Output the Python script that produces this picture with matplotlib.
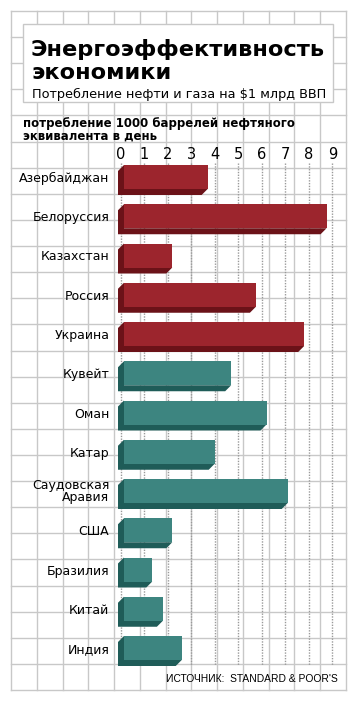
import matplotlib.pyplot as plt
import numpy as np
from matplotlib.patches import Rectangle, Polygon

countries = ["Азербайджан", "Белоруссия", "Казахстан", "Россия", "Украина",
             "Кувейт", "Оман", "Катар", "Саудовская\nАравия", "США",
             "Бразилия", "Китай", "Индия"]
values = [3.7, 8.75, 2.2, 5.75, 7.8, 4.7, 6.2, 4.0, 7.1, 2.2, 1.35, 1.8, 2.6]
group = ["cis"] * 5 + ["other"] * 8
ticks = list(range(10))

front = {"cis": "#9c252d", "other": "#3d8580"}
dark = {"cis": "#6b1218", "other": "#1f5c58"}
grid_c = "#c8c8c8"

W, H = 355, 705
fig = plt.figure(figsize=(W / 100, H / 100), dpi=100)

# background: squared paper
bg = fig.add_axes([0, 0, 1, 1])
bg.set_xlim(0, W)
bg.set_ylim(H, 0)
bg.axis("off")
for x in np.linspace(11, 346, 14):
    bg.plot([x, x], [11, 690], color=grid_c, lw=1.0, zorder=0)
for y in np.linspace(11, 690, 27):
    bg.plot([11, 346], [y, y], color=grid_c, lw=1.0, zorder=0)

# title box
bg.add_patch(Rectangle((23, 24), 310, 78, facecolor="white",
                       edgecolor=grid_c, lw=1.0, zorder=1))
bg.text(31, 56, "Энергоэффективность", fontsize=16.2, fontweight="bold",
        ha="left", va="baseline", zorder=2)
bg.text(31, 79, "экономики", fontsize=16.2, fontweight="bold",
        ha="left", va="baseline", zorder=2)
bg.text(32, 98, "Потребление нефти и газа на $1 млрд ВВП", fontsize=9.3,
        ha="left", va="baseline", zorder=2)
bg.text(23, 127, "потребление 1000 баррелей нефтяного", fontsize=8.5,
        fontweight="bold", ha="left", va="baseline", zorder=2)
bg.text(23, 140, "эквивалента в день", fontsize=8.5,
        fontweight="bold", ha="left", va="baseline", zorder=2)
bg.text(338, 682, "ИСТОЧНИК:  STANDARD & POOR'S", fontsize=7.4,
        family="Liberation Sans", ha="right", va="baseline", zorder=2)

# bar axes
left_px, top_px, bot_px = 112, 163, 690
x0_px, unit_px = 120.5, 23.55
row0_px, row_px = 177, 39.25
ax = fig.add_axes([left_px / W, 1 - bot_px / H, (346 - left_px) / W, (bot_px - top_px) / H])
ax.set_facecolor("none")
ax.set_xlim((left_px - x0_px) / unit_px, (346 - x0_px) / unit_px)
ax.set_ylim((bot_px - row0_px) / row_px, (top_px - row0_px) / row_px)
for s in ax.spines.values():
    s.set_visible(False)

ax.vlines(ticks, (top_px - row0_px) / row_px, (665 - row0_px) / row_px,
          colors="#9a9a9a", linestyles=(0, (1, 1)), lw=1.0, zorder=1)

h = 24 / row_px
dx = 6 / unit_px
dy = 6 / row_px
x0 = 3.5 / unit_px
ypos = np.arange(len(countries))
for y, v, g in zip(ypos, values, group):
    top, bot = y - h / 2, y + h / 2
    shade = [(x0, top), (x0 - dx, top + dy), (x0 - dx, bot + dy),
             (v - dx, bot + dy), (v, bot), (x0, bot)]
    ax.add_patch(Polygon(shade, closed=True, facecolor=dark[g], edgecolor="none", zorder=2))
ax.barh(ypos, [v - x0 for v in values], left=x0, height=h,
        color=[front[g] for g in group], edgecolor="none", zorder=3)

ax.xaxis.tick_top()
ax.set_xticks(ticks)
ax.set_xticklabels([str(t) for t in ticks], fontsize=10.5)
ax.tick_params(axis="x", length=0, pad=1)
ax.set_yticks(ypos)
ax.set_yticklabels(countries, fontsize=9, linespacing=0.85)
ax.tick_params(axis="y", length=0, pad=2)

fig.savefig("out.png", dpi=100)
